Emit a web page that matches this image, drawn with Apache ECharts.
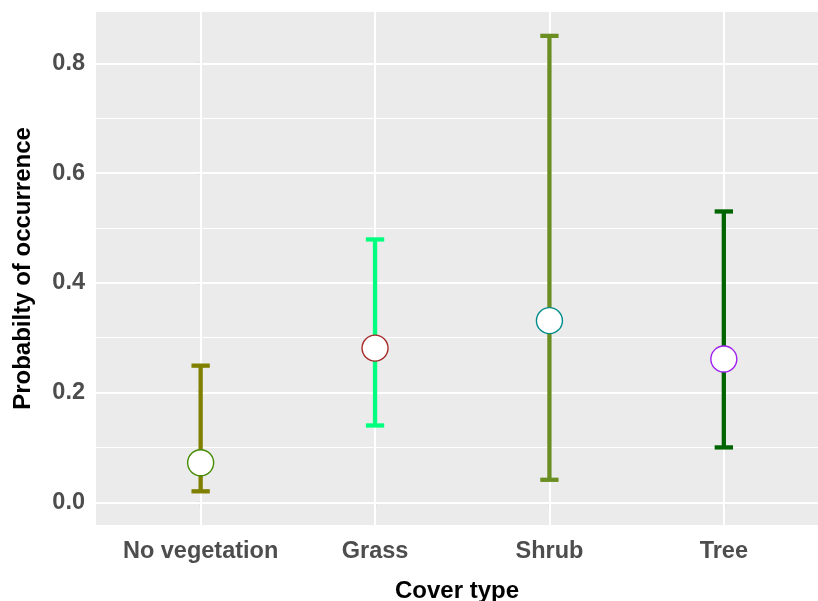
<!DOCTYPE html>
<html>
<head>
<meta charset="utf-8">
<script src="https://cdn.jsdelivr.net/npm/echarts@6/dist/echarts.min.js"></script>
<style>
html,body{margin:0;padding:0;background:#fff;}
#chart{width:818px;height:601px;}
</style>
</head>
<body>
<div id="chart"></div>
<script>
// ---- data ----
const categories = ['No vegetation', 'Grass', 'Shrub', 'Tree'];
const pointValues = [0.072, 0.281, 0.331, 0.261];
const lowerValues = [0.020, 0.140, 0.041, 0.100];
const upperValues = [0.249, 0.479, 0.850, 0.530];
const barColors = ['#808000', '#00FF7F', '#6B8E23', '#006400'];
const pointBorderColors = ['#458B00', '#A52A2A', '#008B8B', '#A020F0'];
const yTicks = [0, 0.2, 0.4, 0.6, 0.8];
const yMinorLines = [0.1, 0.3, 0.5, 0.7];
const xTicks = [0, 1, 2, 3];

const FONT = '"Liberation Sans", Arial, sans-serif';

const errorData = categories.map((c, i) => [i, lowerValues[i], upperValues[i]]);
const pointData = categories.map((c, i) => ({
  value: [i, pointValues[i]],
  itemStyle: { color: '#FFFFFF', borderColor: pointBorderColors[i], borderWidth: 1.4, opacity: 1 }
}));

const chart = echarts.init(document.getElementById('chart'), null, { renderer: 'canvas' });

const option = {
  animation: false,
  backgroundColor: '#FFFFFF',
  grid: {
    left: 96, right: 0, top: 12, bottom: 76,
    containLabel: false,
    outerBoundsMode: 'none',
    show: true, backgroundColor: '#EBEBEB', borderWidth: 0
  },
  xAxis: {
    type: 'value',
    min: -0.6, max: 3.54,
    name: 'Cover type',
    nameLocation: 'middle',
    nameGap: 54,
    nameTextStyle: { fontFamily: FONT, fontWeight: 'bold', fontSize: 24, color: '#000000' },
    axisLine: { show: false },
    splitLine: { show: false },
    axisTick: { show: true, customValues: xTicks, length: 4.5, lineStyle: { color: '#333333', width: 1.1 } },
    axisLabel: {
      customValues: xTicks, margin: 15,
      fontFamily: FONT, fontWeight: 'bold', fontSize: 23.5, color: '#4D4D4D',
      formatter: v => categories[Math.round(v)]
    }
  },
  yAxis: {
    type: 'value',
    min: -0.0414, max: 0.8935,
    name: 'Probabilty of occurrence',
    nameLocation: 'middle',
    nameGap: 61,
    nameTextStyle: { fontFamily: FONT, fontWeight: 'bold', fontSize: 24, color: '#000000' },
    axisLine: { show: false },
    splitLine: { show: false },
    axisTick: { show: true, customValues: yTicks, length: 4.5, lineStyle: { color: '#333333', width: 1.1 } },
    axisLabel: {
      customValues: yTicks, margin: 11,
      fontFamily: FONT, fontWeight: 'bold', fontSize: 23.5, color: '#4D4D4D',
      formatter: v => v.toFixed(1)
    }
  },
  series: [
    {
      type: 'line', data: [], z: 1, silent: true,
      markLine: {
        z: 1,
        silent: true, symbol: ['none', 'none'], animation: false,
        label: { show: false },
        emphasis: { disabled: true },
        data: [
          ...yMinorLines.map(v => ({ yAxis: v, lineStyle: { color: '#FFFFFF', width: 1, type: 'solid' } })),
          ...yTicks.map(v => ({ yAxis: v, lineStyle: { color: '#FFFFFF', width: 2, type: 'solid' } })),
          ...xTicks.map(v => ({ xAxis: v, lineStyle: { color: '#FFFFFF', width: 2, type: 'solid' } }))
        ]
      }
    },
    {
      type: 'custom', z: 3,
      data: errorData,
      renderItem: (params, api) => {
        const x = api.value(0), lo = api.value(1), hi = api.value(2);
        const pLo = api.coord([x, lo]);
        const pHi = api.coord([x, hi]);
        const half = api.size([0.105, 0])[0] / 2;
        const color = barColors[params.dataIndex];
        const mk = () => ({ stroke: color, lineWidth: 4.3, lineCap: 'butt', fill: null });
        return {
          type: 'group',
          children: [
            { type: 'line', shape: { x1: pLo[0], y1: pLo[1], x2: pHi[0], y2: pHi[1] }, style: mk() },
            { type: 'line', shape: { x1: pLo[0] - half, y1: pLo[1], x2: pLo[0] + half, y2: pLo[1] }, style: mk() },
            { type: 'line', shape: { x1: pHi[0] - half, y1: pHi[1], x2: pHi[0] + half, y2: pHi[1] }, style: mk() }
          ]
        };
      }
    },
    {
      type: 'scatter', z: 4,
      symbol: 'circle', symbolSize: 26,
      itemStyle: { opacity: 1 },
      data: pointData
    }
  ]
};
chart.setOption(option);
</script>
</body>
</html>
